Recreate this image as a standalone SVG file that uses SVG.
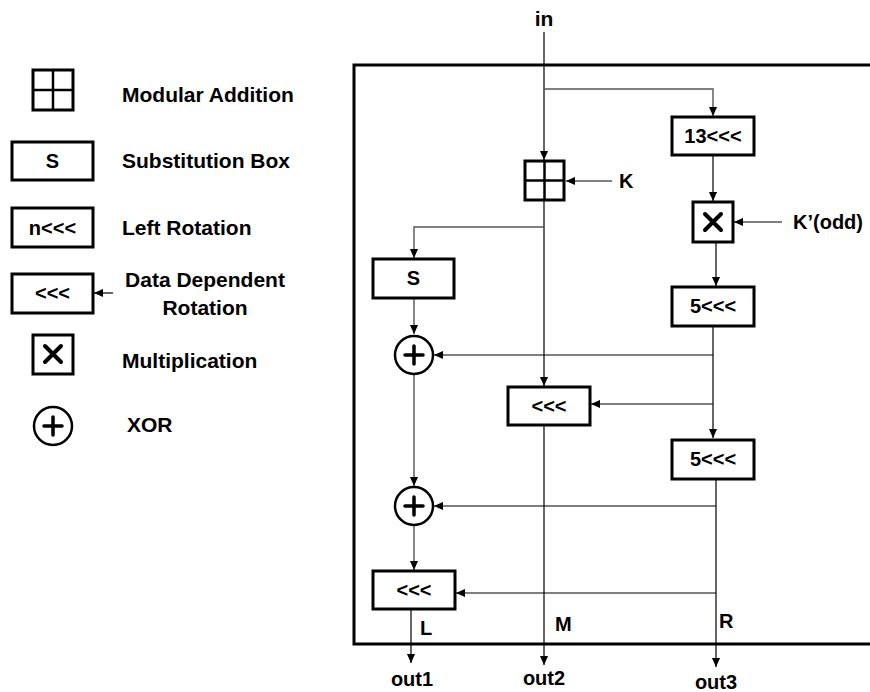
<svg xmlns="http://www.w3.org/2000/svg" width="870" height="692" viewBox="0 0 870 692">
<defs>
<marker id="ah" viewBox="0 0 10 10" refX="10" refY="5" markerWidth="9" markerHeight="9" markerUnits="userSpaceOnUse" orient="auto">
<path d="M0,0.5 L10,5 L0,9.5 Z" fill="#000"/>
</marker>
<style>
.t{font-family:"Liberation Sans",Arial,sans-serif;font-weight:bold;font-size:21px;fill:#000}
.b{font-size:20px}
.m{text-anchor:middle}
.box{fill:#fff;stroke:#000;stroke-width:3}
.ln{fill:none;stroke:#000;stroke-width:1.2}
.g{fill:none;stroke:#555;stroke-width:1.4}
.sym{stroke:#000;stroke-width:3.5;stroke-linecap:round;fill:none}
.x{stroke:#000;stroke-width:4;stroke-linecap:round;fill:none}
.cir{fill:#fff;stroke:#000;stroke-width:2.5}
.frame{fill:none;stroke:#000;stroke-width:3}
</style>
</defs>
<rect width="870" height="692" fill="#fff"/>

<!-- Legend -->
<g id="legend-modadd">
<rect class="box" x="33" y="70" width="40" height="40"/>
<line class="ln" x1="53" y1="70" x2="53" y2="110" style="stroke-width:2.5"/>
<line class="ln" x1="33" y1="90" x2="73" y2="90" style="stroke-width:2.5"/>
<text class="t" x="122" y="102">Modular Addition</text>
</g>
<g id="legend-sbox">
<rect class="box" x="12" y="142" width="81" height="38"/>
<text class="t b m" x="52.5" y="168">S</text>
<text class="t" x="122" y="168">Substitution Box</text>
</g>
<g id="legend-rot">
<rect class="box" x="12" y="208" width="81" height="39"/>
<text class="t b m" x="52.5" y="235">n&lt;&lt;&lt;</text>
<text class="t" x="122" y="235">Left Rotation</text>
</g>
<g id="legend-ddrot">
<rect class="box" x="12" y="274" width="81" height="39"/>
<text class="t b m" x="52.5" y="300">&lt;&lt;&lt;</text>
<line class="ln" x1="113" y1="293" x2="94" y2="293" marker-end="url(#ah)"/>
<text class="t m" x="205" y="287">Data Dependent</text>
<text class="t m" x="205" y="315">Rotation</text>
</g>
<g id="legend-mult">
<rect class="box" x="33" y="335" width="40" height="39"/>
<path class="x" d="M45,346 L61,362 M61,346 L45,362"/>
<text class="t" x="122" y="368">Multiplication</text>
</g>
<g id="legend-xor">
<circle class="cir" cx="53" cy="426" r="19"/>
<path class="sym" d="M53,417 V435 M44,426 H62"/>
<text class="t" x="127" y="432">XOR</text>
</g>

<!-- Frame -->
<rect class="frame" x="354" y="65" width="560" height="579"/>

<!-- Connectors -->
<g id="connectors">
<line class="ln" x1="544" y1="32" x2="544" y2="160" marker-end="url(#ah)"/>
<polyline class="g" points="544,89 713,89 713,116" marker-end="url(#ah)"/>
<line class="g" x1="612" y1="181" x2="566" y2="181" marker-end="url(#ah)"/>
<line class="ln" x1="544" y1="200" x2="544" y2="386" marker-end="url(#ah)"/>
<polyline class="g" points="544,227 414,227 414,258" marker-end="url(#ah)"/>
<line class="g" x1="414" y1="298" x2="414" y2="334" marker-end="url(#ah)"/>
<line class="ln" x1="713" y1="155" x2="713" y2="201" marker-end="url(#ah)"/>
<line class="g" x1="782" y1="222" x2="734" y2="222" marker-end="url(#ah)"/>
<line class="ln" x1="716" y1="242" x2="716" y2="286" marker-end="url(#ah)"/>
<line class="ln" x1="713" y1="326" x2="713" y2="438" marker-end="url(#ah)"/>
<line class="ln" x1="713" y1="355" x2="434" y2="355" marker-end="url(#ah)"/>
<line class="ln" x1="713" y1="404" x2="591" y2="404" marker-end="url(#ah)"/>
<line class="g" x1="414" y1="374" x2="414" y2="486" marker-end="url(#ah)"/>
<line class="ln" x1="716" y1="479" x2="716" y2="667" marker-end="url(#ah)"/>
<line class="ln" x1="716" y1="506" x2="434" y2="506" marker-end="url(#ah)"/>
<line class="ln" x1="716" y1="593" x2="456" y2="593" marker-end="url(#ah)"/>
<line class="g" x1="414" y1="525" x2="414" y2="570" marker-end="url(#ah)"/>
<line class="ln" x1="411" y1="609" x2="411" y2="663" marker-end="url(#ah)"/>
<line class="ln" x1="544" y1="425" x2="544" y2="665" marker-end="url(#ah)"/>
</g>

<!-- Nodes -->
<g id="in"><text class="t m" x="544" y="26">in</text></g>
<g id="rot13">
<rect class="box" x="672" y="117" width="82" height="38"/>
<text class="t b m" x="713" y="143">13&lt;&lt;&lt;</text>
</g>
<g id="modadd">
<rect class="box" x="525" y="161" width="39" height="39"/>
<line class="ln" x1="544.5" y1="161" x2="544.5" y2="200" style="stroke-width:2.5"/>
<line class="ln" x1="525" y1="180.5" x2="564" y2="180.5" style="stroke-width:2.5"/>
</g>
<g id="k"><text class="t b" x="619" y="188">K</text></g>
<g id="mult">
<rect class="box" x="693" y="202" width="40" height="40"/>
<path class="x" d="M705,214 L721,230 M721,214 L705,230"/>
</g>
<g id="kodd"><text class="t b" x="793" y="229">K’(odd)</text></g>
<g id="sbox">
<rect class="box" x="373" y="259" width="81" height="39"/>
<text class="t b m" x="413.5" y="285">S</text>
</g>
<g id="rot5a">
<rect class="box" x="672" y="287" width="82" height="39"/>
<text class="t b m" x="713" y="313">5&lt;&lt;&lt;</text>
</g>
<g id="xor1">
<circle class="cir" cx="414" cy="355" r="19"/>
<path class="sym" d="M414,346 V364 M405,355 H423"/>
</g>
<g id="ddrot-m">
<rect class="box" x="508" y="387" width="82" height="38"/>
<text class="t b m" x="549" y="413">&lt;&lt;&lt;</text>
</g>
<g id="rot5b">
<rect class="box" x="672" y="440" width="82" height="39"/>
<text class="t b m" x="713" y="466">5&lt;&lt;&lt;</text>
</g>
<g id="xor2">
<circle class="cir" cx="414" cy="506" r="19"/>
<path class="sym" d="M414,497 V515 M405,506 H423"/>
</g>
<g id="ddrot-l">
<rect class="box" x="373" y="571" width="82" height="38"/>
<text class="t b m" x="414" y="597">&lt;&lt;&lt;</text>
</g>
<g id="labels">
<text class="t b" x="420" y="635">L</text>
<text class="t b" x="555" y="631">M</text>
<text class="t b" x="719" y="628">R</text>
<text class="t b m" x="412" y="686">out1</text>
<text class="t b m" x="544" y="685">out2</text>
<text class="t b m" x="716" y="689">out3</text>
</g>
</svg>
